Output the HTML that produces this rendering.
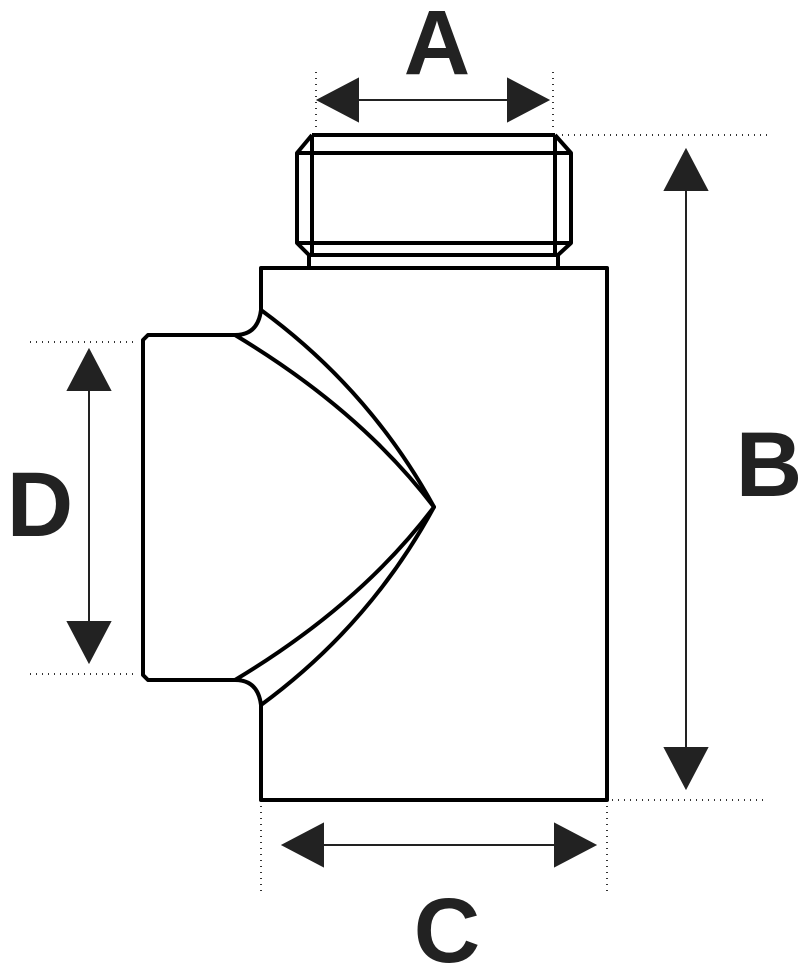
<!DOCTYPE html>
<html><head><style>body{margin:0;background:#fff}svg{display:block}</style></head><body>
<svg width="800" height="966" viewBox="0 0 800 966" xmlns="http://www.w3.org/2000/svg">
<rect width="800" height="966" fill="#fff"/>
<g stroke="#333" stroke-width="2" stroke-dasharray="1 5" fill="none">
<line x1="316" y1="72" x2="316" y2="130"/><line x1="553" y1="72" x2="553" y2="130"/>
<line x1="562" y1="135" x2="768" y2="135"/><line x1="612" y1="800" x2="768" y2="800"/>
<line x1="261" y1="806" x2="261" y2="892"/><line x1="607" y1="806" x2="607" y2="892"/>
<line x1="30" y1="342" x2="138" y2="342"/><line x1="30" y1="674" x2="138" y2="674"/>
</g>
<g stroke="#222" stroke-width="2" fill="#222">
<line x1="350" y1="100" x2="515" y2="100"/>
<polygon points="318,100 358,79 358,121"/><polygon points="548,100 508,79 508,121"/>
<line x1="686" y1="180" x2="686" y2="755"/>
<polygon points="686,150 665,190 707,190"/><polygon points="686,788 665,748 707,748"/>
<line x1="315" y1="845" x2="565" y2="845"/>
<polygon points="283,845 323,824 323,866"/><polygon points="595,845 555,824 555,866"/>
<line x1="89" y1="380" x2="89" y2="630"/>
<polygon points="89,350 68,390 110,390"/><polygon points="89,662 68,622 110,622"/>
</g>
<g fill="none" stroke="#000" stroke-width="4" stroke-linejoin="round">
<path d="M261,310 L261,268 L607,268 L607,800 L261,800 L261,705"/>
<path d="M261,310 Q258,335 235,335 L148,335 L143,340 L143,675 L148,680 L235,680 Q258,680 261,705"/>
<path d="M235,335 Q360,410 434,507 Q360,605 235,680"/>
<path d="M261,310 Q370,390 434,507 Q370,625 261,705"/>
<line x1="312" y1="135" x2="555" y2="135"/>
<path d="M312,135 L297,153 L297,243 L309,255 L309,268"/>
<path d="M555,135 L571,153 L571,243 L558,255 L558,268"/>
<line x1="312" y1="135" x2="312" y2="255"/><line x1="555" y1="135" x2="555" y2="255"/>
<line x1="297" y1="153" x2="571" y2="153"/><line x1="297" y1="243" x2="571" y2="243"/>
<line x1="309" y1="255" x2="558" y2="255"/>
</g>
<g font-family="Liberation Sans, sans-serif" font-weight="bold" font-size="92" fill="#222" text-anchor="middle">
<text x="437" y="74">A</text>
<text x="769" y="496">B</text>
<text x="447" y="962">C</text>
<text x="40" y="536">D</text>
</g>
</svg>
</body></html>
